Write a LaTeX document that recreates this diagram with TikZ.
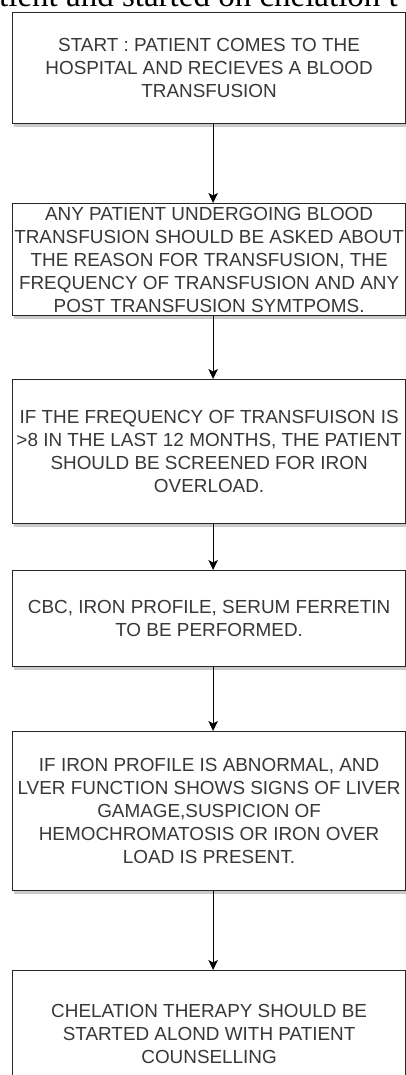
\documentclass[tikz,border=0pt]{standalone}
\usepackage{fontspec}
\setmainfont{Liberation Serif}
\setsansfont{Liberation Sans}
\usetikzlibrary{positioning,arrows.meta,shadows}

\begin{document}
\begin{tikzpicture}[
    x=1pt, y=-1pt,
    stepbox/.style={draw=black!85, line width=1.2pt, fill=white, align=center,
      minimum width=393pt, inner sep=0pt, text=black!78,
      font=\sffamily\fontsize{18.9}{23}\selectfont,
      drop shadow={shadow xshift=1.5pt, shadow yshift=-3pt, opacity=0.35, fill=black!60}},
    flow/.style={-{Stealth[length=10pt, width=9.5pt, inset=2.5pt]}, line width=1pt, black},
  ]
  \useasboundingbox (0,0) rectangle (406,1075);
  \clip (0,0) rectangle (406,1075);

  % Cut line of the page text above the chart.
  \node[font=\rmfamily\fontsize{33}{33}\selectfont, anchor=base west, inner sep=0pt] (pagetext) at (-1,7)
    {tient and started on chelation t};

  % Steps of the chart.
  \node[stepbox, minimum height=111pt, anchor=north west] (start) at (12,12)
    {START : PATIENT COMES TO THE\\HOSPITAL AND RECIEVES A BLOOD\\TRANSFUSION};
  \node[stepbox, minimum height=112pt, anchor=north west] (ask) at (12,203)
    {ANY PATIENT UNDERGOING BLOOD\\TRANSFUSION SHOULD BE ASKED ABOUT\\THE REASON FOR TRANSFUSION, THE\\FREQUENCY OF TRANSFUSION AND ANY\\POST TRANSFUSION SYMTPOMS.};
  \node[stepbox, minimum height=144pt, anchor=north west] (screen) at (12,379)
    {IF THE FREQUENCY OF TRANSFUISON IS\\>8 IN THE LAST 12 MONTHS, THE PATIENT\\SHOULD BE SCREENED FOR IRON\\OVERLOAD.};
  \node[stepbox, minimum height=96pt, anchor=north west] (tests) at (12,570)
    {CBC, IRON PROFILE, SERUM FERRETIN\\TO BE PERFORMED.};
  \node[stepbox, minimum height=159pt, anchor=north west] (suspect) at (12,731)
    {IF IRON PROFILE IS ABNORMAL, AND\\LVER FUNCTION SHOWS SIGNS OF LIVER\\GAMAGE,SUSPICION OF\\HEMOCHROMATOSIS OR IRON OVER\\LOAD IS PRESENT.};
  \node[stepbox, minimum height=127pt, anchor=north west] (chelate) at (12,970)
    {CHELATION THERAPY SHOULD BE\\STARTED ALOND WITH PATIENT\\COUNSELLING};

  \foreach \a/\b in {start/ask, ask/screen, screen/tests, tests/suspect, suspect/chelate}
    \draw[flow] ([xshift=4pt]\a.south) -- ([xshift=4pt]\b.north);
\end{tikzpicture}
\end{document}
